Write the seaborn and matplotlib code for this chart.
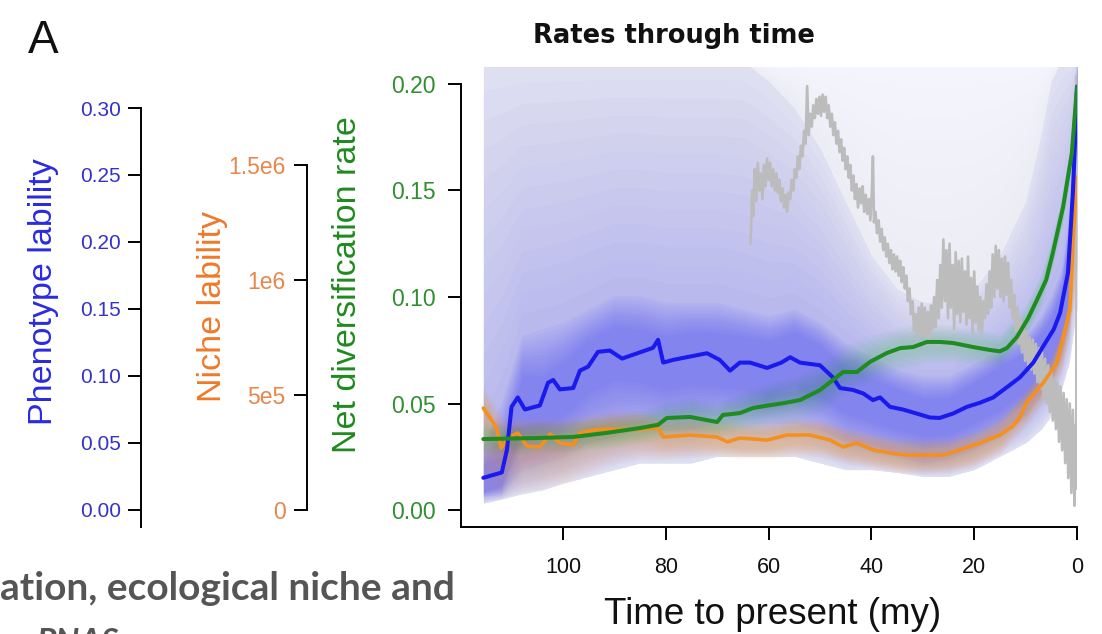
import matplotlib
matplotlib.use("Agg")
import matplotlib.pyplot as plt
import seaborn as sns
import numpy as np

# ------------------------------------------------------------------ data
# Phenotype lability (median through time)
pheno_t = [115.5, 111.9, 110.9, 110.0, 108.8, 107.4, 104.5, 102.9, 101.9, 100.6, 98.0, 96.7,
           95.1, 93.2, 90.9, 88.5, 82.5, 81.5, 80.5, 78.6, 72.0, 69.5, 67.5, 65.6, 63.6, 60.3,
           57.5, 55.8, 53.9, 50.0, 47.5, 46.1, 43.6, 41.6, 39.7, 38.3, 36.4, 33.9, 31.2, 28.6,
           26.7, 24.1, 21.4, 18.9, 16.3, 13.5, 11.1, 8.5, 6.6, 4.5, 3.3, 1.75, 0.8, 0.2, 0.0]
pheno_v = [0.024, 0.028, 0.045, 0.077, 0.084, 0.075, 0.078, 0.095, 0.097, 0.090, 0.091, 0.104,
           0.107, 0.118, 0.119, 0.113, 0.121, 0.127, 0.110, 0.112, 0.117, 0.112, 0.104, 0.110,
           0.110, 0.106, 0.110, 0.114, 0.110, 0.108, 0.099, 0.091, 0.0896, 0.087, 0.082, 0.084,
           0.077, 0.075, 0.072, 0.069, 0.0687, 0.072, 0.077, 0.080, 0.084, 0.092, 0.099, 0.110,
           0.122, 0.135, 0.147, 0.177, 0.237, 0.291, 0.316]

# Net diversification rate
div_t = [115.5, 105, 98, 91.5, 85, 81.5, 79.8, 75.3, 70, 68.9, 65.6, 63, 60.3, 57.5, 53.9, 50,
         47.5, 45.5, 42.8, 40.3, 37.0, 34.4, 31.9, 29.2, 26.7, 24.1, 20.2, 16.9, 15.0, 13.6,
         11.7, 9.5, 7.8, 6.0, 4.7, 2.7, 1.0, 0.0]
div_v = [0.0333, 0.0338, 0.0343, 0.0362, 0.0385, 0.040, 0.0432, 0.0437, 0.0413, 0.0446, 0.0455,
         0.0479, 0.049, 0.0500, 0.0516, 0.0563, 0.061, 0.0648, 0.0648, 0.0695, 0.0737, 0.076,
         0.0765, 0.0789, 0.0789, 0.0784, 0.0765, 0.0751, 0.0745, 0.0761, 0.0812, 0.090, 0.0986,
         0.108, 0.1207, 0.1423, 0.1676, 0.1986]

# Niche lability
niche_t = [115.5, 113.0, 112.0, 110.5, 108.8, 107.0, 104.5, 102.5, 100.6, 98.0, 96.7, 94.0,
           91.5, 85.0, 81.5, 80.5, 75.3, 70.0, 68.0, 65.6, 60.3, 56.4, 52.0, 48.0, 45.5, 42.8,
           39.7, 36.4, 33.1, 29.2, 26.0, 22.8, 18.9, 15.0, 12.5, 11.1, 9.7, 6.6, 3.9, 2.7, 1.4,
           0.8, 0.0]
niche_v = [443e3, 361e3, 270e3, 317e3, 335e3, 278e3, 274e3, 330e3, 291e3, 283e3, 335e3, 348e3,
           352e3, 350e3, 357e3, 317e3, 326e3, 317e3, 296e3, 313e3, 304e3, 326e3, 326e3, 304e3,
           274e3, 291e3, 261e3, 248e3, 239e3, 239e3, 239e3, 261e3, 291e3, 326e3, 365e3, 404e3,
           470e3, 552e3, 639e3, 752e3, 870e3, 1160e3, 1450e3]

# Paleo-temperature proxy (grey curve, arbitrary units drawn on the diversification scale)
temp_t = [63.5, 63.2, 63.0, 62.7, 62.4, 62.1, 61.8, 61.5, 61.2, 60.9, 60.6, 60.3, 60.0, 59.7,
          59.4, 59.1, 58.8, 58.5, 58.2, 57.9, 57.6, 57.3, 57.0, 56.7, 56.4, 56.1, 55.8, 55.5,
          55.2, 54.9, 54.6, 54.3, 54.0, 53.7, 53.4, 53.1, 52.8, 52.5, 52.2, 51.9, 51.6, 51.3,
          51.0, 50.7, 50.4, 50.1, 49.8, 49.5, 49.2, 48.9, 48.6, 48.3, 48.0, 47.7, 47.4, 47.1,
          46.8, 46.5, 46.2, 45.9, 45.6, 45.3, 45.0, 44.7, 44.4, 44.1, 43.8, 43.5, 43.2, 42.9,
          42.6, 42.3, 42.0, 41.7, 41.4, 41.1, 40.8, 40.5, 40.2, 39.9, 39.7, 39.5, 39.2, 38.9,
          38.6, 38.3, 38.0, 37.7, 37.4, 37.1, 36.8, 36.5, 36.2, 35.9, 35.6, 35.3, 35.0, 34.7,
          34.4, 34.1, 33.8, 33.5, 33.2, 32.9, 32.6, 32.3, 32.0, 31.7, 31.4, 31.1, 30.8, 30.5,
          30.2, 29.9, 29.6, 29.3, 29.0, 28.7, 28.4, 28.1, 27.8, 27.5, 27.2, 26.9, 26.6, 26.3,
          26.0, 25.7, 25.4, 25.1, 24.8, 24.5, 24.2, 23.9, 23.6, 23.3, 23.0, 22.7, 22.4, 22.1,
          21.8, 21.5, 21.2, 20.9, 20.6, 20.3, 20.0, 19.7, 19.4, 19.1, 18.8, 18.5, 18.2, 17.9,
          17.6, 17.3, 17.0, 16.7, 16.4, 16.1, 15.8, 15.5, 15.2, 14.9, 14.6, 14.3, 14.0, 13.7,
          13.4, 13.1, 12.8, 12.5, 12.2, 11.9, 11.6, 11.3, 11.0, 10.7, 10.4, 10.1, 9.8, 9.5,
          9.2, 8.9, 8.6, 8.3, 8.0, 7.7, 7.4, 7.1, 6.8, 6.5, 6.2, 5.9, 5.6, 5.3, 5.0, 4.7, 4.4,
          4.1, 3.8, 3.5, 3.2, 2.9, 2.6, 2.3, 2.0, 1.7, 1.4, 1.1, 0.8, 0.5, 0.3, 0.15, 0.05, 0.0]
temp_v = [0.125, 0.150, 0.138, 0.160, 0.145, 0.163, 0.150, 0.158, 0.146, 0.162, 0.152, 0.165,
          0.155, 0.163, 0.152, 0.160, 0.150, 0.158, 0.149, 0.155, 0.145, 0.151, 0.142, 0.148,
          0.140, 0.149, 0.146, 0.155, 0.150, 0.160, 0.156, 0.166, 0.160, 0.171, 0.166, 0.178,
          0.172, 0.199, 0.176, 0.186, 0.180, 0.190, 0.184, 0.193, 0.186, 0.194, 0.185, 0.195,
          0.187, 0.194, 0.184, 0.190, 0.180, 0.186, 0.176, 0.182, 0.172, 0.178, 0.168, 0.174,
          0.164, 0.170, 0.160, 0.166, 0.156, 0.162, 0.150, 0.157, 0.146, 0.153, 0.142, 0.151,
          0.144, 0.152, 0.140, 0.148, 0.139, 0.146, 0.136, 0.150, 0.166, 0.135, 0.140, 0.130,
          0.136, 0.126, 0.132, 0.122, 0.128, 0.119, 0.125, 0.116, 0.122, 0.113, 0.120, 0.112,
          0.119, 0.110, 0.117, 0.107, 0.114, 0.104, 0.110, 0.098, 0.104, 0.092, 0.098, 0.084,
          0.092, 0.080, 0.095, 0.082, 0.097, 0.083, 0.095, 0.081, 0.093, 0.080, 0.096, 0.085,
          0.100, 0.086, 0.108, 0.090, 0.115, 0.095, 0.127, 0.098, 0.122, 0.090, 0.125, 0.095,
          0.115, 0.085, 0.121, 0.092, 0.117, 0.088, 0.118, 0.093, 0.112, 0.087, 0.119, 0.090,
          0.109, 0.083, 0.112, 0.088, 0.105, 0.084, 0.100, 0.083, 0.098, 0.090, 0.106, 0.092,
          0.112, 0.095, 0.120, 0.100, 0.124, 0.104, 0.122, 0.100, 0.118, 0.098, 0.119, 0.101,
          0.116, 0.095, 0.108, 0.090, 0.101, 0.084, 0.095, 0.078, 0.090, 0.074, 0.086, 0.070,
          0.084, 0.068, 0.081, 0.066, 0.080, 0.064, 0.078, 0.060, 0.076, 0.057, 0.074, 0.052,
          0.071, 0.050, 0.068, 0.046, 0.065, 0.042, 0.062, 0.038, 0.060, 0.032, 0.058, 0.028,
          0.055, 0.022, 0.052, 0.015, 0.050, 0.008, 0.047, 0.002, 0.040, 0.010, 0.204, 0.190]

# Posterior density bands (coarse time grid)
band_t = [115.5, 112, 108, 104, 100, 95, 90, 85, 80, 75, 70, 65, 60, 55, 50, 45, 40, 35, 30,
          25, 20, 15, 10, 7, 5, 3, 1.5, 0]
pheno_q05 = [0.005, 0.008, 0.012, 0.015, 0.02, 0.025, 0.03, 0.035, 0.035, 0.035, 0.04, 0.04,
             0.04, 0.04, 0.035, 0.03, 0.03, 0.028, 0.025, 0.025, 0.03, 0.04, 0.05, 0.06, 0.07,
             0.09, 0.11, 0.15]
pheno_q99 = [0.335, 0.335, 0.335, 0.335, 0.335, 0.335, 0.335, 0.335, 0.335, 0.335, 0.335,
             0.335, 0.335, 0.335, 0.335, 0.335, 0.335, 0.335, 0.335, 0.335, 0.335, 0.335,
             0.335, 0.335, 0.335, 0.335, 0.335, 0.335]
pheno_q95 = [0.335, 0.335, 0.335, 0.335, 0.335, 0.335, 0.335, 0.335, 0.335, 0.335, 0.335,
             0.335, 0.32, 0.30, 0.27, 0.23, 0.19, 0.165, 0.155, 0.155, 0.165, 0.19, 0.23, 0.28,
             0.32, 0.335, 0.335, 0.335]
pheno_q25 = [0.010, 0.012, 0.03, 0.035, 0.04, 0.05, 0.055, 0.06, 0.06, 0.06, 0.065, 0.065,
             0.065, 0.065, 0.06, 0.05, 0.045, 0.04, 0.035, 0.038, 0.045, 0.055, 0.07, 0.085,
             0.095, 0.115, 0.14, 0.25]
pheno_q75 = [0.05, 0.08, 0.13, 0.135, 0.14, 0.15, 0.16, 0.16, 0.155, 0.155, 0.155, 0.15, 0.145,
             0.15, 0.14, 0.125, 0.115, 0.105, 0.1, 0.1, 0.11, 0.12, 0.13, 0.145, 0.16, 0.18,
             0.22, 0.335]
pheno_q40 = [0.014, 0.018, 0.06, 0.062, 0.07, 0.087, 0.097, 0.095, 0.09, 0.093, 0.092, 0.09,
             0.086, 0.093, 0.085, 0.072, 0.066, 0.06, 0.055, 0.056, 0.065, 0.075, 0.088, 0.102,
             0.113, 0.132, 0.16, 0.28]
pheno_q60 = [0.034, 0.04, 0.1, 0.1, 0.11, 0.127, 0.137, 0.135, 0.13, 0.133, 0.132, 0.13, 0.126,
             0.133, 0.123, 0.106, 0.098, 0.09, 0.083, 0.084, 0.095, 0.107, 0.118, 0.132, 0.143,
             0.164, 0.2, 0.335]

niche_q05 = [60e3, 60e3, 70e3, 80e3, 100e3, 150e3, 200e3, 220e3, 220e3, 230e3, 230e3, 220e3,
             220e3, 230e3, 230e3, 200e3, 180e3, 160e3, 155e3, 160e3, 185e3, 240e3, 360e3,
             450e3, 510e3, 600e3, 750e3, 1000e3]
niche_q95 = [540e3, 420e3, 400e3, 400e3, 400e3, 420e3, 430e3, 430e3, 400e3, 400e3, 395e3,
             385e3, 385e3, 400e3, 395e3, 360e3, 335e3, 315e3, 310e3, 315e3, 345e3, 400e3,
             520e3, 610e3, 680e3, 790e3, 950e3, 1350e3]
niche_q30 = [408e3, 235e3, 248e3, 255e3, 255e3, 295e3, 313e3, 313e3, 282e3, 291e3, 282e3,
             269e3, 269e3, 291e3, 283e3, 248e3, 226e3, 204e3, 198e3, 204e3, 233e3, 291e3,
             415e3, 505e3, 565e3, 665e3, 825e3, 1150e3]
niche_q70 = [478e3, 305e3, 318e3, 325e3, 325e3, 365e3, 383e3, 383e3, 352e3, 361e3, 352e3,
             339e3, 339e3, 361e3, 353e3, 318e3, 296e3, 274e3, 268e3, 274e3, 303e3, 361e3,
             485e3, 575e3, 635e3, 735e3, 895e3, 1250e3]

div_q10 = [0.026, 0.026, 0.026, 0.027, 0.027, 0.028, 0.029, 0.031, 0.034, 0.035, 0.034, 0.037,
           0.04, 0.041, 0.045, 0.054, 0.06, 0.065, 0.068, 0.069, 0.068, 0.067, 0.08, 0.095,
           0.111, 0.131, 0.152, 0.19]
div_q90 = [0.041, 0.041, 0.041, 0.042, 0.042, 0.043, 0.045, 0.047, 0.051, 0.053, 0.051, 0.056,
           0.06, 0.063, 0.069, 0.078, 0.082, 0.086, 0.088, 0.087, 0.085, 0.083, 0.096, 0.111,
           0.127, 0.147, 0.168, 0.207]

x_ticks = [100, 80, 60, 40, 20, 0]
div_ticks = [0.00, 0.05, 0.10, 0.15, 0.20]
div_labels = ["0.00", "0.05", "0.10", "0.15", "0.20"]
pheno_ticks = [0.00, 0.05, 0.10, 0.15, 0.20, 0.25, 0.30]
pheno_labels = ["0.00", "0.05", "0.10", "0.15", "0.20", "0.25", "0.30"]
niche_ticks = [0, 5e5, 1e6, 1.5e6]
niche_labels = ["0", "5e5", "1e6", "1.5e6"]

# ------------------------------------------------------------------ style
sns.set_theme(style="white")
plt.rcParams["font.family"] = ["Liberation Sans", "DejaVu Sans"]

BLUE = "#1a1aee"
ORANGE = "#f5901e"
GREEN = "#1e8c1e"
GREY = "#bcbcbc"


def soft_band(ax, t, lo_out, hi_out, lo_in, hi_in, color, total_alpha, n=14):
    """Stack thin fills between an outer and an inner band to get a soft edge."""
    lo_out, hi_out = np.asarray(lo_out), np.asarray(hi_out)
    lo_in, hi_in = np.asarray(lo_in), np.asarray(hi_in)
    a = 1 - (1 - total_alpha) ** (1.0 / n)
    for i in range(n):
        f = i / (n - 1)
        lo = lo_out + f * (lo_in - lo_out)
        hi = hi_out + f * (hi_in - hi_out)
        ax.fill_between(t, lo, hi, color=color, alpha=a, lw=0)


W, H = 1102, 634
fig = plt.figure(figsize=(W / 100, H / 100), dpi=100)
rect = [461 / W, 1 - 527 / H, 616 / W, 460 / H]

ax_bfill = fig.add_axes(rect, zorder=1)
ax_ofill = fig.add_axes(rect, zorder=2, sharex=ax_bfill)
ax_main = fig.add_axes(rect, zorder=3, sharex=ax_bfill)
ax_oline = fig.add_axes(rect, zorder=4, sharex=ax_bfill)
ax_bline = fig.add_axes(rect, zorder=5, sharex=ax_bfill)
ax_gline = fig.add_axes(rect, zorder=6, sharex=ax_bfill)
all_axes = [ax_bfill, ax_ofill, ax_main, ax_oline, ax_bline, ax_gline]

PHENO_LIM = (-0.0127, 0.3306)
NICHE_LIM = (-73913, 1926087)
DIV_LIM = (-0.00798, 0.20798)

for a in all_axes:
    for s in a.spines.values():
        s.set_visible(False)
    a.tick_params(axis="both", left=False, bottom=False, labelleft=False, labelbottom=False)
    a.grid(False)
    if a is not ax_bfill:
        a.patch.set_visible(False)
ax_bfill.set_facecolor("white")

# ---- shading (posterior density)
ax_bfill.fill_between(band_t, pheno_q05, pheno_q99, color=BLUE, alpha=0.045, lw=0)
soft_band(ax_bfill, band_t, pheno_q05, pheno_q99, pheno_q05, pheno_q95, BLUE, 0.05, n=10)
ax_bfill.fill_between(band_t, pheno_q05, pheno_q95, color=BLUE, alpha=0.035, lw=0)
soft_band(ax_bfill, band_t, pheno_q05, pheno_q95, pheno_q25, pheno_q75, BLUE, 0.20)
soft_band(ax_bfill, band_t, pheno_q25, pheno_q75, pheno_q40, pheno_q60, BLUE, 0.30)
ax_bfill.set_ylim(*PHENO_LIM)

soft_band(ax_ofill, band_t, niche_q05, niche_q95, niche_q30, niche_q70, "#ff9a1a", 0.32)
ax_ofill.set_ylim(*NICHE_LIM)

div_mid = (np.asarray(div_q10) + np.asarray(div_q90)) / 2
soft_band(ax_main, band_t, div_q10, div_q90, div_mid - 0.003, div_mid + 0.003, "#30c030", 0.22)
sns.lineplot(x=temp_t, y=temp_v, ax=ax_main, color=GREY, linewidth=1.9, estimator=None)
ax_main.set_ylim(*DIV_LIM)

# ---- lines
sns.lineplot(x=niche_t, y=niche_v, ax=ax_oline, color=ORANGE, linewidth=2.6, estimator=None)
ax_oline.set_ylim(*NICHE_LIM)
sns.lineplot(x=pheno_t, y=pheno_v, ax=ax_bline, color=BLUE, linewidth=2.9, estimator=None)
ax_bline.set_ylim(*PHENO_LIM)
sns.lineplot(x=div_t, y=div_v, ax=ax_gline, color=GREEN, linewidth=2.9, estimator=None)
ax_gline.set_ylim(*DIV_LIM)

ax_gline.set_xlim(119.84, 0)
for a in all_axes:
    a.set_xlabel("")
    a.set_ylabel("")

SP_LW = 1.4
TL = 9.5

# main (diversification) axis + time axis
for k in ("left", "bottom"):
    ax_gline.spines[k].set_visible(True)
    ax_gline.spines[k].set_color("black")
    ax_gline.spines[k].set_linewidth(SP_LW)
ax_gline.spines["left"].set_bounds(DIV_LIM[0], 0.20)
ax_gline.set_yticks(div_ticks)
ax_gline.set_yticklabels(div_labels)
ax_gline.set_xticks(x_ticks)
ax_gline.set_xticklabels([str(v) for v in x_ticks])
ax_gline.tick_params(axis="y", left=True, labelleft=True, length=TL, width=SP_LW,
                     color="black", labelcolor="#2f8f2f", labelsize=16.5, pad=9)
ax_gline.tick_params(axis="x", bottom=True, labelbottom=True, length=TL, width=SP_LW,
                     color="black", labelcolor="#111111", labelsize=15.5, pad=12)

# phenotype axis
sp = ax_bline.spines["left"]
sp.set_visible(True)
sp.set_position(("axes", (141 - 461) / 616))
sp.set_color("black")
sp.set_linewidth(SP_LW)
sp.set_bounds(PHENO_LIM[0], 0.30)
ax_bline.set_yticks(pheno_ticks)
ax_bline.set_yticklabels(pheno_labels)
ax_bline.tick_params(axis="y", left=True, labelleft=True, length=TL, width=SP_LW,
                     color="black", labelcolor="#3333cc", labelsize=15, pad=5)

# niche axis
sp = ax_oline.spines["left"]
sp.set_visible(True)
sp.set_position(("axes", (307 - 461) / 616))
sp.set_color("black")
sp.set_linewidth(SP_LW)
sp.set_bounds(0, 1.5e6)
ax_oline.set_yticks(niche_ticks)
ax_oline.set_yticklabels(niche_labels)
ax_oline.tick_params(axis="y", left=True, labelleft=True, length=TL, width=SP_LW,
                     color="black", labelcolor="#e8864c", labelsize=16.5, pad=6)

# ---- texts
fig.text(44 / W, 1 - 292 / H, "Phenotype lability", rotation=90, ha="center", va="center",
         fontsize=24.5, color="#2a2ae0")
fig.text(212 / W, 1 - 306 / H, "Niche lability", rotation=90, ha="center", va="center",
         fontsize=24.5, color="#f07828")
fig.text(348 / W, 1 - 285 / H, "Net diversification rate", rotation=90, ha="center",
         va="center", fontsize=24.5, color="#1f8a1f")
fig.text(773 / W, 1 - 614 / H, "Time to present (my)", ha="center", va="center",
         fontsize=26.5, color="#111111")
fig.text(673.5 / W, 1 - 43 / H, "Rates through time", ha="center", va="baseline",
         fontsize=18.5, fontweight="bold", family=["DejaVu Sans"], color="#111111")
fig.text(28 / W, 1 - 53 / H, "A", ha="left", va="baseline", fontsize=33, color="#111111")
fig.text(455 / W, 1 - 600 / H, "ation, ecological niche and", ha="right", va="baseline",
         fontsize=28, fontweight="bold", color="#555555", family=["Lato", "DejaVu Sans"])
fig.text(37 / W, 1 - 652 / H, "PNAS", ha="left", va="baseline", fontsize=24,
         fontweight="bold", style="italic", color="#555555", family=["Lato", "DejaVu Sans"])

fig.savefig("out.png", dpi=100)
